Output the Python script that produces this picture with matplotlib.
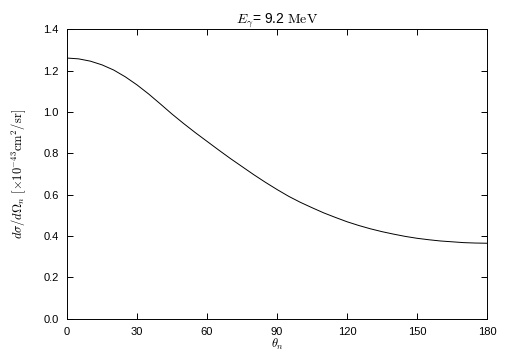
import matplotlib
matplotlib.use('Agg')
import matplotlib.pyplot as plt

plt.rcParams['font.family'] = ['Liberation Sans', 'DejaVu Sans']
plt.rcParams['mathtext.fontset'] = 'cm'

## angle (deg) vs cross section, every 5 deg
theta = list(range(0, 185, 5))
xsec = [1.261, 1.257, 1.246, 1.228, 1.203, 1.170, 1.131, 1.087, 1.039, 0.990,
        0.944, 0.900, 0.858, 0.816, 0.775, 0.736, 0.697, 0.660, 0.625, 0.592,
        0.563, 0.537, 0.512, 0.490, 0.469, 0.451, 0.435, 0.421, 0.409, 0.398,
        0.389, 0.382, 0.376, 0.372, 0.368, 0.366, 0.365]

x_ticks = [0, 30, 60, 90, 120, 150, 180]
y_ticks = [0.0, 0.2, 0.4, 0.6, 0.8, 1.0, 1.2, 1.4]

fig = plt.figure(figsize=(5.05, 3.61), dpi=100)
ax = fig.add_axes([0.1327, 0.1172, 0.8317, 0.8016])

ax.plot(theta, xsec, color='black', lw=0.7)

ax.set_xlim(0, 180)
ax.set_ylim(0, 1.4)
ax.set_xticks(x_ticks)
ax.set_yticks(y_ticks)
ax.set_yticklabels([f'{v:.1f}' for v in y_ticks])
ax.tick_params(direction='in', top=True, right=True, length=4, width=0.7,
               labelsize=8, pad=6)
for s in ax.spines.values():
    s.set_linewidth(0.7)

ax.set_title(r'$E_{\gamma}$= 9.2 $\mathrm{MeV}$', fontsize=10, pad=4)
ax.set_xlabel(r'$\theta_n$', fontsize=9, labelpad=0)
ax.set_ylabel(r'$d\sigma/d\Omega_n\ [\times10^{-43}\mathrm{cm}^2/\mathrm{sr}]$',
              fontsize=9, labelpad=11)

fig.savefig('out.png', dpi=100)
